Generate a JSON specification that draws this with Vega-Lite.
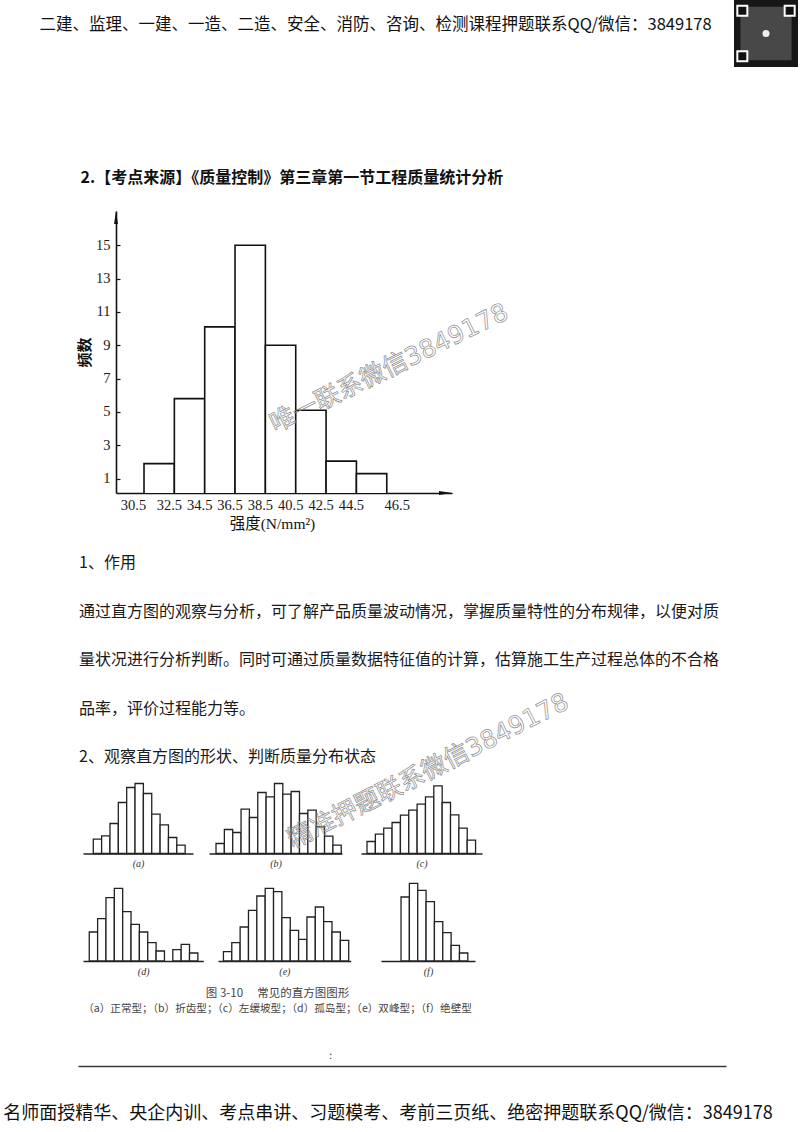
{
 "$schema": "https://vega.github.io/schema/vega-lite/v6.json",
 "padding": 0,
 "background": "white",
 "spacing": 0,
 "bounds": "flush",
 "config": {"view": {"stroke": null}, "font": "Noto Sans CJK SC", "text": {"font": "Noto Sans CJK SC"}},
 "datasets": {
  "hist": [
   {"lo": 30.5, "hi": 32.5, "f": 1.9},
   {"lo": 32.5, "hi": 34.5, "f": 5.8},
   {"lo": 34.5, "hi": 36.5, "f": 10.1},
   {"lo": 36.5, "hi": 38.5, "f": 15},
   {"lo": 38.5, "hi": 40.5, "f": 9},
   {"lo": 40.5, "hi": 42.5, "f": 5.1},
   {"lo": 42.5, "hi": 44.5, "f": 2.05},
   {"lo": 44.5, "hi": 46.5, "f": 1.3}
  ],
  "para": [
   {"line": 1, "t": "1、作用"},
   {"line": 2, "t": "通过直方图的观察与分析，可了解产品质量波动情况，掌握质量特性的分布规律，以便对质"},
   {"line": 3, "t": "量状况进行分析判断。同时可通过质量数据特征值的计算，估算施工生产过程总体的不合格"},
   {"line": 4, "t": "品率，评价过程能力等。"},
   {"line": 5, "t": "2、观察直方图的形状、判断质量分布状态"}
  ],
  "sa": [
   {"b0": 0, "b1": 1, "h": 14.3}, {"b0": 1, "b1": 2, "h": 17.7}, {"b0": 2, "b1": 3, "h": 30}, {"b0": 3, "b1": 4, "h": 51},
   {"b0": 4, "b1": 5, "h": 66}, {"b0": 5, "b1": 6, "h": 70}, {"b0": 6, "b1": 7, "h": 60}, {"b0": 7, "b1": 8, "h": 39.3},
   {"b0": 8, "b1": 9, "h": 28.7}, {"b0": 9, "b1": 10, "h": 16}, {"b0": 10, "b1": 11, "h": 8.3}
  ],
  "sb": [
   {"b0": 0, "b1": 1, "h": 10}, {"b0": 1, "b1": 2, "h": 24}, {"b0": 2, "b1": 3, "h": 21}, {"b0": 3, "b1": 4, "h": 44.3},
   {"b0": 4, "b1": 5, "h": 36}, {"b0": 5, "b1": 6, "h": 61}, {"b0": 6, "b1": 7, "h": 56.7}, {"b0": 7, "b1": 8, "h": 70},
   {"b0": 8, "b1": 9, "h": 59.3}, {"b0": 9, "b1": 10, "h": 62}, {"b0": 10, "b1": 11, "h": 40}, {"b0": 11, "b1": 12, "h": 43.3},
   {"b0": 12, "b1": 13, "h": 26.7}, {"b0": 13, "b1": 14, "h": 17.3}, {"b0": 14, "b1": 15, "h": 8.3}
  ],
  "sc": [
   {"b0": 0, "b1": 1, "h": 12}, {"b0": 1, "b1": 2, "h": 19.3}, {"b0": 2, "b1": 3, "h": 25.3}, {"b0": 3, "b1": 4, "h": 31},
   {"b0": 4, "b1": 5, "h": 38.3}, {"b0": 5, "b1": 6, "h": 43.3}, {"b0": 6, "b1": 7, "h": 49.3}, {"b0": 7, "b1": 8, "h": 56.7},
   {"b0": 8, "b1": 9, "h": 67.7}, {"b0": 9, "b1": 10, "h": 51}, {"b0": 10, "b1": 11, "h": 38.7}, {"b0": 11, "b1": 12, "h": 25.3},
   {"b0": 12, "b1": 13, "h": 13.3}
  ],
  "sd": [
   {"b0": 0, "b1": 1, "h": 29}, {"b0": 1, "b1": 2, "h": 42.3}, {"b0": 2, "b1": 3, "h": 63.3}, {"b0": 3, "b1": 4, "h": 72.7},
   {"b0": 4, "b1": 5, "h": 49.3}, {"b0": 5, "b1": 6, "h": 36.7}, {"b0": 6, "b1": 7, "h": 29}, {"b0": 7, "b1": 8, "h": 18.3},
   {"b0": 8, "b1": 9, "h": 10}, {"b0": 10, "b1": 11, "h": 11.3}, {"b0": 11, "b1": 12, "h": 16.7}, {"b0": 12, "b1": 13, "h": 8}
  ],
  "se": [
   {"b0": 0, "b1": 1, "h": 9.3}, {"b0": 1, "b1": 2, "h": 18.3}, {"b0": 2, "b1": 3, "h": 34}, {"b0": 3, "b1": 4, "h": 50.7},
   {"b0": 4, "b1": 5, "h": 65}, {"b0": 5, "b1": 6, "h": 72.7}, {"b0": 6, "b1": 7, "h": 69.3}, {"b0": 7, "b1": 8, "h": 43.3},
   {"b0": 8, "b1": 9, "h": 30.7}, {"b0": 9, "b1": 10, "h": 21.7}, {"b0": 10, "b1": 11, "h": 44}, {"b0": 11, "b1": 12, "h": 54},
   {"b0": 12, "b1": 13, "h": 39.3}, {"b0": 13, "b1": 14, "h": 29}, {"b0": 14, "b1": 15, "h": 20.7}
  ],
  "sf": [
   {"b0": 0, "b1": 1, "h": 64}, {"b0": 1, "b1": 2, "h": 77.7}, {"b0": 2, "b1": 3, "h": 70.7}, {"b0": 3, "b1": 4, "h": 59.3},
   {"b0": 4, "b1": 5, "h": 39.3}, {"b0": 5, "b1": 6, "h": 28.3}, {"b0": 6, "b1": 7, "h": 15.7}, {"b0": 7, "b1": 8, "h": 8}
  ]
 },
 "vconcat": [
  {"hconcat": [
    {"width": 17, "height": 1, "data": {"values": []}, "mark": "point"},
    {"width": 717, "height": 50, "data": {"values": [{"t": "二建、监理、一建、一造、二造、安全、消防、咨询、检测课程押题联系QQ/微信：3849178"}]},
     "mark": {"type": "text", "fontSize": 16.5, "color": "#111"}, "encoding": {"text": {"field": "t"}}},
    {"width": 64, "height": 67, "layer": [
      {"data": {"values": [{}]}, "mark": {"type": "rect", "color": "#161616"},
       "encoding": {"x": {"datum": 0, "type": "quantitative", "scale": {"domain": [0, 1], "nice": false}, "axis": null},
                    "x2": {"datum": 1},
                    "y": {"datum": 0, "type": "quantitative", "scale": {"domain": [0, 1], "nice": false}, "axis": null},
                    "y2": {"datum": 1}}},
      {"data": {"values": [{}]}, "mark": {"type": "rect", "color": "#484848"},
       "encoding": {"x": {"datum": 0.1, "type": "quantitative"}, "x2": {"datum": 0.9},
                    "y": {"datum": 0.1, "type": "quantitative"}, "y2": {"datum": 0.9}}},
      {"data": {"values": [{}]}, "mark": {"type": "point", "shape": "square", "size": 100, "filled": true, "fill": "#111", "stroke": "white", "strokeWidth": 2, "opacity": 1},
       "encoding": {"x": {"datum": 0.13, "type": "quantitative"}, "y": {"datum": 0.84, "type": "quantitative"}}},
      {"data": {"values": [{}]}, "mark": {"type": "point", "shape": "square", "size": 100, "filled": true, "fill": "#111", "stroke": "white", "strokeWidth": 2, "opacity": 1},
       "encoding": {"x": {"datum": 0.87, "type": "quantitative"}, "y": {"datum": 0.84, "type": "quantitative"}}},
      {"data": {"values": [{}]}, "mark": {"type": "point", "shape": "square", "size": 100, "filled": true, "fill": "#111", "stroke": "white", "strokeWidth": 2, "opacity": 1},
       "encoding": {"x": {"datum": 0.13, "type": "quantitative"}, "y": {"datum": 0.16, "type": "quantitative"}}},
      {"data": {"values": [{}]}, "mark": {"type": "point", "shape": "circle", "size": 50, "filled": true, "color": "#eee", "opacity": 1},
       "encoding": {"x": {"datum": 0.5, "type": "quantitative"}, "y": {"datum": 0.5, "type": "quantitative"}}}
    ]}
   ], "spacing": 0, "bounds": "flush"},
  {"width": 1, "height": 166, "data": {"values": []}, "mark": "point"},
  {"hconcat": [
    {"width": 80, "height": 1, "data": {"values": []}, "mark": "point"},
    {"width": 1, "height": 24, "data": {"values": [{"t": "2.【考点来源】《质量控制》第三章第一节工程质量统计分析"}]},
     "mark": {"type": "text", "align": "left", "fontSize": 16, "fontWeight": "bold", "color": "#111"}, "encoding": {"text": {"field": "t"}}}
   ], "spacing": 0, "bounds": "flush"},
  {"width": 1, "height": 45, "data": {"values": []}, "mark": "point"},
  {"hconcat": [
    {"width": 116, "height": 1, "data": {"values": []}, "mark": "point"},
    {"width": 336, "height": 282, "layer": [
      {"data": {"name": "hist"}, "mark": {"type": "rect", "fill": "white", "stroke": "#111", "strokeWidth": 1.6, "clip": true},
       "encoding": {
        "x": {"field": "lo", "type": "quantitative", "scale": {"domain": [28.654, 50.8], "nice": false, "zero": false},
              "axis": {"values": [30.5, 32.5, 34.5, 36.5, 38.5, 40.5, 42.5, 44.5, 46.5], "format": ".1f", "ticks": false, "grid": false,
                       "domainColor": "#111", "domainWidth": 1.6, "labelFont": "Liberation Serif", "labelFontSize": 14.5, "labelColor": "#1a1a1a",
                       "labelPadding": 5, "labelFlush": false, "labelOverlap": false, "labelBound": false,
                       "labelOffset": {"condition": [{"test": "datum.value == 30.5", "value": -11}, {"test": "datum.value == 46.5", "value": 10}], "value": -5.5},
                       "title": "强度(N/mm²)", "titleFont": "Liberation Serif, Noto Sans CJK SC", "titleFontSize": 15.5, "titleFontWeight": "normal",
                       "titleColor": "#111", "titlePadding": 5, "titleX": 156}},
        "x2": {"field": "hi"},
        "y": {"field": "f", "type": "quantitative", "scale": {"domain": [0.14, 17.05], "nice": false, "zero": false},
              "axis": {"values": [1, 3, 5, 7, 9, 11, 13, 15], "tickSize": -4, "tickWidth": 1.2, "tickColor": "#111", "grid": false,
                       "domainColor": "#111", "domainWidth": 1.6, "labelFont": "Liberation Serif", "labelFontSize": 14.5, "labelColor": "#1a1a1a",
                       "labelPadding": 10, "labelFlush": false, "labelOverlap": false, "labelBound": false,
                       "title": "频数", "titleFontSize": 15, "titleFontWeight": "bold", "titleColor": "#111", "titlePadding": 3}},
        "y2": {"datum": 0}}},
      {"data": {"values": [{}]}, "mark": {"type": "point", "shape": "M-1,-0.3L1,0L-1,0.3Z", "size": 169, "filled": true, "color": "#111", "opacity": 1},
       "encoding": {"x": {"datum": 50.37, "type": "quantitative"}, "y": {"datum": 0.14, "type": "quantitative"}}},
      {"data": {"values": [{}]}, "mark": {"type": "point", "shape": "M-0.3,1L0,-1L0.3,1Z", "size": 169, "filled": true, "color": "#111", "opacity": 1},
       "encoding": {"x": {"datum": 28.654, "type": "quantitative"}, "y": {"datum": 16.66, "type": "quantitative"}}},
      {"data": {"values": [{"t": "唯一联系微信3849178"}]},
       "mark": {"type": "text", "angle": 334, "fontSize": 25, "font": "DejaVu Sans, Noto Sans CJK SC", "fillOpacity": 0, "stroke": "#8c8c8c", "strokeWidth": 0.7},
       "encoding": {"x": {"datum": 46.65, "type": "quantitative"}, "y": {"datum": 7.64, "type": "quantitative"}, "text": {"field": "t"}}}
    ]}
   ], "spacing": 0, "bounds": "flush"},
  {"width": 1, "height": 327.75, "data": {"values": []}, "mark": "point"},
  {"hconcat": [
    {"width": 79, "height": 1, "data": {"values": []}, "mark": "point"},
    {"width": 721, "height": 242.5, "data": {"name": "para"}, "mark": {"type": "text", "align": "left", "baseline": "middle", "fontSize": 16, "color": "#1a1a1a"},
     "encoding": {"x": {"datum": 0, "type": "quantitative", "scale": {"domain": [0, 1], "nice": false}, "axis": null},
                  "y": {"field": "line", "type": "quantitative", "scale": {"domain": [0.5, 5.5], "reverse": true, "nice": false, "zero": false}, "axis": null},
                  "text": {"field": "t"}}}
   ], "spacing": 0, "bounds": "flush"},
  {"width": 1, "height": 242.5, "data": {"values": []}, "mark": "point"},
  {"hconcat": [
    {"width": 83, "height": 1, "data": {"values": []}, "mark": "point"},
    {"width": 110, "height": 71.5, "data": {"name": "sa"}, "mark": {"type": "rect", "fill": "white", "stroke": "#222", "strokeWidth": 1.3},
     "encoding": {"x": {"field": "b0", "type": "quantitative", "scale": {"domain": [-1.23, 11.94], "nice": false, "zero": false},
                        "axis": {"title": "(a)", "titleFont": "Liberation Serif", "titleFontStyle": "italic", "titleFontWeight": "normal", "titleFontSize": 10, "titleColor": "#333", "titlePadding": 5, "ticks": false, "labels": false, "grid": false, "domainColor": "#222", "domainWidth": 1.6}},
                  "x2": {"field": "b1"}, "y": {"field": "h", "type": "quantitative", "scale": {"domain": [0, 71.5], "nice": false}, "axis": null}, "y2": {"datum": 0}}},
    {"width": 16, "height": 1, "data": {"values": []}, "mark": "point"},
    {"width": 133, "height": 71.5, "layer": [
      {"data": {"name": "sb"}, "mark": {"type": "rect", "fill": "white", "stroke": "#222", "strokeWidth": 1.3},
       "encoding": {"x": {"field": "b0", "type": "quantitative", "scale": {"domain": [-0.84, 15.09], "nice": false, "zero": false},
                          "axis": {"title": "(b)", "titleFont": "Liberation Serif", "titleFontStyle": "italic", "titleFontWeight": "normal", "titleFontSize": 10, "titleColor": "#333", "titlePadding": 5, "ticks": false, "labels": false, "grid": false, "domainColor": "#222", "domainWidth": 1.6}},
                    "x2": {"field": "b1"}, "y": {"field": "h", "type": "quantitative", "scale": {"domain": [0, 71.5], "nice": false}, "axis": null}, "y2": {"datum": 0}}},
      {"data": {"values": [{"t": "精准押题联系微信3849178"}]},
       "mark": {"type": "text", "angle": 333, "fontSize": 25, "font": "DejaVu Sans, Noto Sans CJK SC", "fillOpacity": 0, "stroke": "#8c8c8c", "strokeWidth": 0.7},
       "encoding": {"x": {"datum": 25.4, "type": "quantitative"}, "y": {"datum": 82.75, "type": "quantitative"}, "text": {"field": "t"}}}
    ]},
    {"width": 19, "height": 1, "data": {"values": []}, "mark": "point"},
    {"width": 121, "height": 71.5, "data": {"name": "sc"}, "mark": {"type": "rect", "fill": "white", "stroke": "#222", "strokeWidth": 1.3},
     "encoding": {"x": {"field": "b0", "type": "quantitative", "scale": {"domain": [-0.72, 13.77], "nice": false, "zero": false},
                        "axis": {"title": "(c)", "titleFont": "Liberation Serif", "titleFontStyle": "italic", "titleFontWeight": "normal", "titleFontSize": 10, "titleColor": "#333", "titlePadding": 5, "ticks": false, "labels": false, "grid": false, "domainColor": "#222", "domainWidth": 1.6}},
                  "x2": {"field": "b1"}, "y": {"field": "h", "type": "quantitative", "scale": {"domain": [0, 71.5], "nice": false}, "axis": null}, "y2": {"datum": 0}}}
   ], "spacing": 0, "bounds": "flush"},
  {"width": 1, "height": 98.75, "data": {"values": []}, "mark": "point"},
  {"hconcat": [
    {"width": 83, "height": 1, "data": {"values": []}, "mark": "point"},
    {"width": 120.3, "height": 80, "data": {"name": "sd"}, "mark": {"type": "rect", "fill": "white", "stroke": "#222", "strokeWidth": 1.3},
     "encoding": {"x": {"field": "b0", "type": "quantitative", "scale": {"domain": [-0.75, 13.65], "nice": false, "zero": false},
                        "axis": {"title": "(d)", "titleFont": "Liberation Serif", "titleFontStyle": "italic", "titleFontWeight": "normal", "titleFontSize": 10, "titleColor": "#333", "titlePadding": 5, "ticks": false, "labels": false, "grid": false, "domainColor": "#222", "domainWidth": 1.6}},
                  "x2": {"field": "b1"}, "y": {"field": "h", "type": "quantitative", "scale": {"domain": [0, 80], "nice": false}, "axis": null}, "y2": {"datum": 0}}},
    {"width": 14, "height": 1, "data": {"values": []}, "mark": "point"},
    {"width": 132.7, "height": 80, "data": {"name": "se"}, "mark": {"type": "rect", "fill": "white", "stroke": "#222", "strokeWidth": 1.3},
     "encoding": {"x": {"field": "b0", "type": "quantitative", "scale": {"domain": [-0.65, 15.24], "nice": false, "zero": false},
                        "axis": {"title": "(e)", "titleFont": "Liberation Serif", "titleFontStyle": "italic", "titleFontWeight": "normal", "titleFontSize": 10, "titleColor": "#333", "titlePadding": 5, "ticks": false, "labels": false, "grid": false, "domainColor": "#222", "domainWidth": 1.6}},
                  "x2": {"field": "b1"}, "y": {"field": "h", "type": "quantitative", "scale": {"domain": [0, 80], "nice": false}, "axis": null}, "y2": {"datum": 0}}},
    {"width": 29.3, "height": 1, "data": {"values": []}, "mark": "point"},
    {"width": 94, "height": 80, "data": {"name": "sf"}, "mark": {"type": "rect", "fill": "white", "stroke": "#222", "strokeWidth": 1.3},
     "encoding": {"x": {"field": "b0", "type": "quantitative", "scale": {"domain": [-2.4, 8.86], "nice": false, "zero": false},
                        "axis": {"title": "(f)", "titleFont": "Liberation Serif", "titleFontStyle": "italic", "titleFontWeight": "normal", "titleFontSize": 10, "titleColor": "#333", "titlePadding": 5, "ticks": false, "labels": false, "grid": false, "domainColor": "#222", "domainWidth": 1.6}},
                  "x2": {"field": "b1"}, "y": {"field": "h", "type": "quantitative", "scale": {"domain": [0, 80], "nice": false}, "axis": null}, "y2": {"datum": 0}}}
   ], "spacing": 0, "bounds": "flush"},
  {"width": 1, "height": 104.5, "data": {"values": []}, "mark": "point"},
  {"hconcat": [
    {"width": 83, "height": 1, "data": {"values": []}, "mark": "point"},
    {"width": 389, "height": 30, "layer": [
      {"data": {"values": [{"t": "图 3-10　 常见的直方图图形"}]}, "mark": {"type": "text", "fontSize": 11.5, "color": "#444"},
       "encoding": {"y": {"datum": 1, "type": "quantitative", "scale": {"domain": [0.5, 2.5], "reverse": true, "nice": false, "zero": false}, "axis": null}, "text": {"field": "t"}}},
      {"data": {"values": [{"t": "（a）正常型；（b）折齿型；（c）左缓坡型；（d）孤岛型；（e）双峰型；（f）绝壁型"}]}, "mark": {"type": "text", "fontSize": 10.6, "color": "#444"},
       "encoding": {"y": {"datum": 2, "type": "quantitative", "axis": null}, "text": {"field": "t"}}}
    ]}
   ], "spacing": 0, "bounds": "flush"},
  {"width": 1, "height": 59.9, "data": {"values": []}, "mark": "point"},
  {"hconcat": [
    {"width": 78, "height": 1, "data": {"values": []}, "mark": "point"},
    {"width": 648, "height": 20, "data": {"values": [{"t": ":"}]}, "mark": {"type": "text", "fontSize": 10, "color": "#333"},
     "encoding": {"x": {"datum": 0.39, "type": "quantitative", "scale": {"domain": [0, 1], "nice": false},
                        "axis": {"domain": true, "domainColor": "#3a3a3a", "domainWidth": 1.5, "ticks": false, "labels": false, "grid": false, "title": null}},
                  "text": {"field": "t"}}}
   ], "spacing": 0, "bounds": "flush"},
  {"width": 1, "height": 47.6, "data": {"values": []}, "mark": "point"},
  {"width": 776, "height": 40, "data": {"values": [{"t": "名师面授精华、央企内训、考点串讲、习题模考、考前三页纸、绝密押题联系QQ/微信：3849178"}]},
   "mark": {"type": "text", "fontSize": 18, "color": "#111"}, "encoding": {"text": {"field": "t"}}}
 ]
}
